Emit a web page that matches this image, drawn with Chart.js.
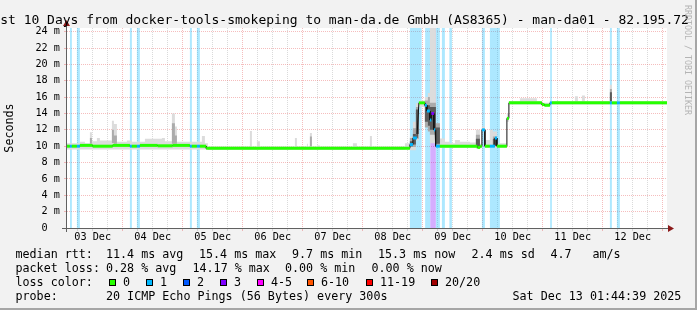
<!DOCTYPE html>
<html>
<head>
<meta charset="utf-8">
<script src="https://cdn.jsdelivr.net/npm/chart.js@4.4.1/dist/chart.umd.min.js"></script>
<style>
  html, body { margin: 0; padding: 0; background: #f2f2f2; }
  canvas { display: block; }
</style>
</head>
<body>
<canvas id="smokeChart" width="697" height="310"></canvas>
<script>
// x axis is in hours since 03 Dec 00:00; the graph covers 03 Dec 01:44 .. 13 Dec 01:44
var tStart = 1.74;
var tEnd = 241.74;

var dayTicks = [12, 36, 60, 84, 108, 132, 156, 180, 204, 228];
var dayLabels = ['03 Dec', '04 Dec', '05 Dec', '06 Dec', '07 Dec', '08 Dec', '09 Dec', '10 Dec', '11 Dec', '12 Dec'];

// loss classes (legend) and their colours
var lossLabels = ['0', '1', '2', '3', '4-5', '6-10', '11-19', '20/20'];
var lossColors = ['#26ff00', '#00b8ff', '#0059ff', '#7e00ff', '#ff00ff', '#ff5500', '#ff0000', '#a10000'];

// periods with packet loss (background bars), class index into lossLabels
var lossStart = [2.9, 5.7, 26.9, 29.7, 50.9, 53.7, 138.9, 145.0, 147.0, 149.3, 151.7, 154.7, 167.7, 170.9, 195.0, 218.9, 221.7];
var lossEnd   = [3.7, 6.9, 27.7, 30.9, 51.7, 54.9, 143.6, 147.0, 149.3, 150.9, 152.9, 155.7, 168.9, 174.9, 195.7, 219.7, 222.9];
var lossLevel = [1, 1, 1, 1, 1, 1, 1, 1, 3, 1, 1, 1, 1, 1, 1, 1, 1];

// median rtt (ms), constant per period, with loss class of the period
var medStart = [1.74, 2.9, 3.7, 5.7, 6.9, 12, 20, 26.9, 27.7, 29.7, 30.9, 38, 44, 50.9, 51.7, 53.7, 54.9, 57.4,
  138.9, 140.1, 142.5, 144.9, 145.7, 146.9, 147.5, 148.5, 149.0, 149.3, 150.9, 165.9, 167.0, 167.7, 168.9, 170.9,
  172.9, 173.7, 177.7, 178.5, 191.7, 192.7, 194.9, 195.7, 218.9, 219.7, 221.7, 222.9];
var medEnd = [2.9, 3.7, 5.7, 6.9, 12, 20, 26.9, 27.7, 29.7, 30.9, 38, 44, 50.9, 51.7, 53.7, 54.9, 57.4, 138.9,
  140.1, 141.7, 144.9, 145.7, 146.9, 147.5, 148.5, 149.0, 149.3, 150.9, 165.9, 167.0, 167.7, 168.9, 170.9, 172.9,
  173.7, 177.7, 178.5, 191.7, 192.7, 194.9, 195.7, 218.9, 219.7, 221.7, 222.9, 241.74];
var medValue = [10.0, 10.0, 10.0, 10.0, 10.1, 10.0, 10.1, 10.0, 10.0, 10.0, 10.1, 10.05, 10.1, 10.0, 10.0, 10.0, 10.0, 9.75,
  10.2, 11.0, 15.3, 15.0, 14.3, 13.2, 14.0, 12.0, 11.0, 10.0, 10.0, 9.85, 10.0, 12.0, 10.0, 10.0,
  11.0, 10.0, 13.4, 15.3, 15.1, 15.0, 15.3, 15.3, 15.3, 15.3, 15.3, 15.3];
var medLoss = [0, 1, 0, 1, 0, 0, 0, 1, 0, 1, 0, 0, 0, 1, 0, 1, 0, 0,
  1, 1, 0, 1, 1, 1, 3, 1, 1, 1, 0, 0, 0, 1, 0, 1,
  1, 0, 0, 0, 0, 0, 1, 0, 1, 0, 1, 0];

// light smoke (outer pings), stepped from each time to the next
var smokeT  = [1.74, 6.9, 8.9, 10.9, 11.7, 13.7, 14.9, 19.7, 20.5, 21.7, 25.7, 27.7, 32.9, 39.7, 40.9, 43.7, 44.9, 45.7,
  55.7, 56.9, 58.1, 74.9, 75.7, 77.7, 78.9, 92.9, 93.7, 97.7, 98.1, 98.9, 99.7, 101.7, 102.9, 116.1, 117.7, 122.9, 123.7,
  136.9, 138.9, 140.1, 141.3, 142.5, 144.9, 146.1, 146.9, 149.3, 150.9, 152.9, 154.9, 156.9, 158.9, 162.9, 165.3, 166.9,
  167.7, 168.9, 170.9, 172.1, 173.7, 177.7, 178.5, 182.9, 189.7, 191.7, 194.9, 204.9, 206.1, 207.7, 208.9, 218.9, 219.7, 241.74];
var smokeLo = [9.6, 9.6, 9.6, 9.6, 9.6, 9.6, 9.6, 9.6, 9.6, 9.6, 9.6, 9.6, 9.6, 9.6, 9.6, 9.6, 9.6, 9.6,
  9.6, 9.6, 9.55, 9.55, 9.55, 9.55, 9.55, 9.55, 9.55, 9.55, 9.55, 9.55, 9.55, 9.55, 9.55, 9.55, 9.55, 9.55, 9.55,
  9.6, 9.5, 9.5, 10.7, 14.8, 12.8, 12.4, 10.35, 10.1, 9.8, 9.8, 9.8, 9.8, 9.8, 9.8, 9.7, 9.8,
  11.8, 9.8, 9.8, 9.8, 9.8, 13.0, 15.1, 15.1, 15.1, 14.9, 15.1, 15.1, 15.1, 15.1, 15.1, 15.2, 15.1, 15.1];
var smokeHi = [10.35, 10.55, 10.35, 11.7, 10.6, 11.0, 10.7, 13.1, 12.7, 10.55, 10.7, 10.55, 10.9, 11.0, 10.6, 14.0, 12.4, 10.55,
  11.25, 10.35, 9.95, 11.85, 9.95, 10.6, 9.95, 11.0, 9.95, 10.3, 9.95, 11.6, 9.95, 10.1, 9.95, 10.35, 9.95, 11.25, 9.95,
  10.35, 11.2, 13.0, 15.25, 15.6, 16.0, 16.5, 30, 12.8, 10.95, 10.55, 10.35, 10.75, 10.55, 10.45, 12.0, 10.3,
  12.4, 10.75, 12.0, 11.8, 10.35, 14.0, 15.5, 15.85, 15.5, 15.3, 15.5, 16.1, 15.5, 16.2, 15.5, 17.5, 15.5, 15.5];

// middle smoke
var midT  = [1.74, 10.9, 11.7, 19.7, 20.5, 21.7, 43.7, 44.9, 45.7, 98.9, 99.7, 138.9, 140.1, 141.3, 142.5, 144.9, 146.1,
  146.9, 149.3, 150.9, 165.3, 166.9, 172.1, 173.7, 218.9, 219.7, 241.74];
var midLo = [10, 10.3, 10, 10.4, 10.3, 10, 10.3, 10.3, 10, 10.0, 10, 9.9, 9.9, 10.9, 15.3, 12.3, 11.8,
  11.4, 10.0, 10, 9.9, 10, 10.1, 10, 15.4, 15.3, 15.3];
var midHi = [10, 11.0, 10, 12.0, 11.3, 10, 12.8, 11.3, 10, 11.2, 10, 11.0, 12.2, 14.8, 15.3, 15.6, 16.0,
  15.3, 12.8, 10, 11.4, 10, 11.2, 10, 17.0, 15.3, 15.3];

// dark smoke (pings near the median)
var darkT  = [1.74, 138.9, 140.1, 141.3, 142.5, 144.9, 146.1, 146.9, 149.3, 150.9, 165.3, 166.9, 172.1, 173.7, 218.9, 219.7, 241.74];
var darkLo = [10, 10.0, 10.2, 11.5, 15.3, 13.0, 12.5, 12.0, 10.3, 10, 10.0, 10, 10.1, 10, 15.5, 15.3, 15.3];
var darkHi = [10, 10.6, 11.5, 14.5, 15.3, 15.0, 15.0, 14.8, 12.3, 10, 10.9, 10, 10.9, 10, 16.6, 15.3, 15.3];

var rttStats = ['11.4 ms avg', '15.4 ms max', '9.7 ms min', '15.3 ms now', '2.4 ms sd', '4.7', 'am/s'];
var lossStats = ['0.28 % avg', '14.17 % max', '0.00 % min', '0.00 % now'];

var titleText = 'Last 10 Days from docker-tools-smokeping to man-da.de GmbH (AS8365) - man-da01 - 82.195.72';
var probeText = '20 ICMP Echo Pings (56 Bytes) every 300s';
var dateText = 'Sat Dec 13 01:44:39 2025';

var mono = 'DejaVu Sans Mono';
var majorGrid = 'rgba(230, 90, 90, 0.4)';
var minorGrid = 'rgba(150, 150, 150, 0.35)';

function points(ts, vs) {
    return ts.map(function (t, i) { return {x: t, y: vs[i]}; });
}

function lossSeries(level) {
    var pts = [];
    for (var i = 0; i < lossStart.length; i++) {
        if (lossLevel[i] !== level) continue;
        pts.push({x: lossStart[i], y: 30}, {x: lossEnd[i], y: 0});
    }
    return pts;
}

var medPts = [];
for (var i = 0; i < medStart.length; i++) {
    medPts.push({x: medStart[i], y: medValue[i]}, {x: medEnd[i], y: medValue[i]});
}

function hidden(extra) {
    var d = {pointRadius: 0, borderWidth: 0, borderColor: 'rgba(0,0,0,0)', fill: false, stepped: true};
    for (var k in extra) d[k] = extra[k];
    return d;
}

var frame = {
    id: 'frame',
    beforeDraw: function (chart) {
        var c = chart.ctx, a = chart.chartArea;
        c.save();
        c.fillStyle = '#f2f2f2';
        c.fillRect(0, 0, chart.width, chart.height);
        c.fillStyle = '#ffffff';
        c.fillRect(a.left, a.top, a.right - a.left, a.bottom - a.top);
        c.restore();
    },
    afterDraw: function (chart) {
        var c = chart.ctx, a = chart.chartArea;
        c.save();
        // axes
        c.strokeStyle = '#606060';
        c.lineWidth = 1;
        c.beginPath();
        c.moveTo(a.left - 0.5, a.bottom + 4);
        c.lineTo(a.left - 0.5, a.top - 6);
        c.moveTo(a.left - 5, a.bottom + 0.5);
        c.lineTo(a.right + 5, a.bottom + 0.5);
        c.stroke();
        c.fillStyle = '#8b1a1a';
        c.beginPath();
        c.moveTo(a.left - 0.5, a.top - 8);
        c.lineTo(a.left - 4, a.top - 2);
        c.lineTo(a.left + 3, a.top - 2);
        c.closePath();
        c.fill();
        c.beginPath();
        c.moveTo(a.right + 7, a.bottom + 0.5);
        c.lineTo(a.right + 1, a.bottom - 3);
        c.lineTo(a.right + 1, a.bottom + 4);
        c.closePath();
        c.fill();

        // title
        c.fillStyle = '#000';
        c.textBaseline = 'alphabetic';
        c.textAlign = 'left';
        c.font = '13px "' + mono + '"';
        c.fillText(titleText, -15.5, 24);

        // watermark
        c.save();
        c.translate(685, 5);
        c.rotate(Math.PI / 2);
        c.fillStyle = '#b4b4b4';
        c.font = '8.3px "' + mono + '"';
        c.fillText('RRDTOOL / TOBI OETIKER', 0, 0);
        c.restore();

        // legend
        c.font = '11.7px "' + mono + '"';
        c.fillStyle = '#000';
        var rttX = [106, 199, 292, 378, 471.5, 550.5, 592.5];
        c.fillText('median rtt:', 15.5, 258);
        rttStats.forEach(function (s, i) { c.fillText(s, rttX[i], 258); });
        var lossX = [106, 192.5, 285, 371.5];
        c.fillText('packet loss:', 15.5, 272);
        lossStats.forEach(function (s, i) { c.fillText(s, lossX[i], 272); });
        c.fillText('loss color:', 15.5, 286);
        var boxX = [109, 146, 183, 220, 257, 307, 366, 431];
        lossLabels.forEach(function (s, i) {
            c.fillStyle = lossColors[i];
            c.fillRect(boxX[i], 279, 7, 7);
            c.strokeStyle = '#000';
            c.strokeRect(boxX[i] + 0.5, 279.5, 6, 6);
            c.fillStyle = '#000';
            c.fillText(s, boxX[i] + 14, 286);
        });
        c.fillText('probe:', 15.5, 300);
        c.fillText(probeText, 106, 300);
        c.fillText(dateText, 512.5, 300);

        // image border
        c.fillStyle = '#a6a6a6';
        c.fillRect(chart.width - 2, 0, 2, chart.height);
        c.fillRect(0, chart.height - 2, chart.width, 2);
        c.restore();
    }
};

new Chart(document.getElementById('smokeChart'), {
    type: 'line',
    data: {
        datasets: [
            hidden({data: lossSeries(1), fill: 'origin', backgroundColor: 'rgba(0, 184, 255, 0.32)', order: 10}),
            hidden({data: lossSeries(3), fill: 'origin', backgroundColor: 'rgba(126, 0, 255, 0.32)', order: 9}),
            hidden({data: points(smokeT, smokeLo), order: 8}),
            hidden({data: points(smokeT, smokeHi), fill: 2, backgroundColor: '#dcdcdc', order: 7}),
            hidden({data: points(midT, midLo), order: 6}),
            hidden({data: points(midT, midHi), fill: 4, backgroundColor: '#ababab', order: 5}),
            hidden({data: points(darkT, darkLo), order: 4}),
            hidden({data: points(darkT, darkHi), fill: 6, backgroundColor: '#5a5a5a', order: 3}),
            {
                data: medPts, borderColor: '#111', borderWidth: 1, pointRadius: 0, fill: false, order: 2
            },
            {
                data: medPts, borderWidth: 3, pointRadius: 0, fill: false, borderCapStyle: 'butt', order: 1,
                borderColor: lossColors[0],
                segment: {
                    borderColor: function (ctx) {
                        if (ctx.p0DataIndex % 2 === 1) return 'rgba(0,0,0,0)';
                        return lossColors[medLoss[ctx.p0DataIndex / 2]];
                    }
                }
            }
        ]
    },
    options: {
        responsive: false,
        animation: false,
        devicePixelRatio: 1,
        events: [],
        layout: {padding: {left: 0, top: 28, right: 30, bottom: 0}},
        plugins: {legend: {display: false}, tooltip: {enabled: false}, title: {display: false}},
        scales: {
            x: {
                type: 'linear',
                min: tStart,
                max: tEnd,
                z: 1,
                afterBuildTicks: function (s) {
                    var t = [];
                    for (var h = 6; h <= 240; h += 6) t.push({value: h});
                    s.ticks = t;
                },
                afterFit: function (s) { s.height = 82; },
                grid: {
                    color: function (ctx) { return ctx.tick && ctx.tick.value % 24 === 0 ? majorGrid : minorGrid; },
                    tickLength: 3
                },
                border: {display: false, dash: [1, 1]},
                ticks: {
                    autoSkip: false,
                    maxRotation: 0,
                    padding: 0,
                    color: '#000',
                    font: {family: mono, size: 10.2},
                    callback: function (v) {
                        var k = dayTicks.indexOf(v);
                        return k >= 0 ? dayLabels[k] : '';
                    }
                }
            },
            y: {
                min: 0,
                max: 24.45,
                z: 1,
                afterBuildTicks: function (s) {
                    var t = [];
                    for (var v = 0; v <= 24; v++) t.push({value: v});
                    s.ticks = t;
                },
                afterFit: function (s) { s.width = 67; },
                grid: {
                    color: function (ctx) { return ctx.tick && ctx.tick.value % 2 === 0 ? majorGrid : minorGrid; },
                    tickLength: 3
                },
                border: {display: false, dash: [1, 1]},
                ticks: {
                    padding: 4,
                    color: '#000',
                    font: {family: mono, size: 10.2},
                    callback: function (v) {
                        if (v % 2 !== 0) return '';
                        return v === 0 ? '0  ' : v + ' m';
                    }
                },
                title: {
                    display: true,
                    text: 'Seconds',
                    color: '#000',
                    font: {family: mono, size: 11.7},
                    padding: {top: 3, bottom: 0}
                }
            }
        }
    },
    plugins: [frame]
});
</script>
</body>
</html>
